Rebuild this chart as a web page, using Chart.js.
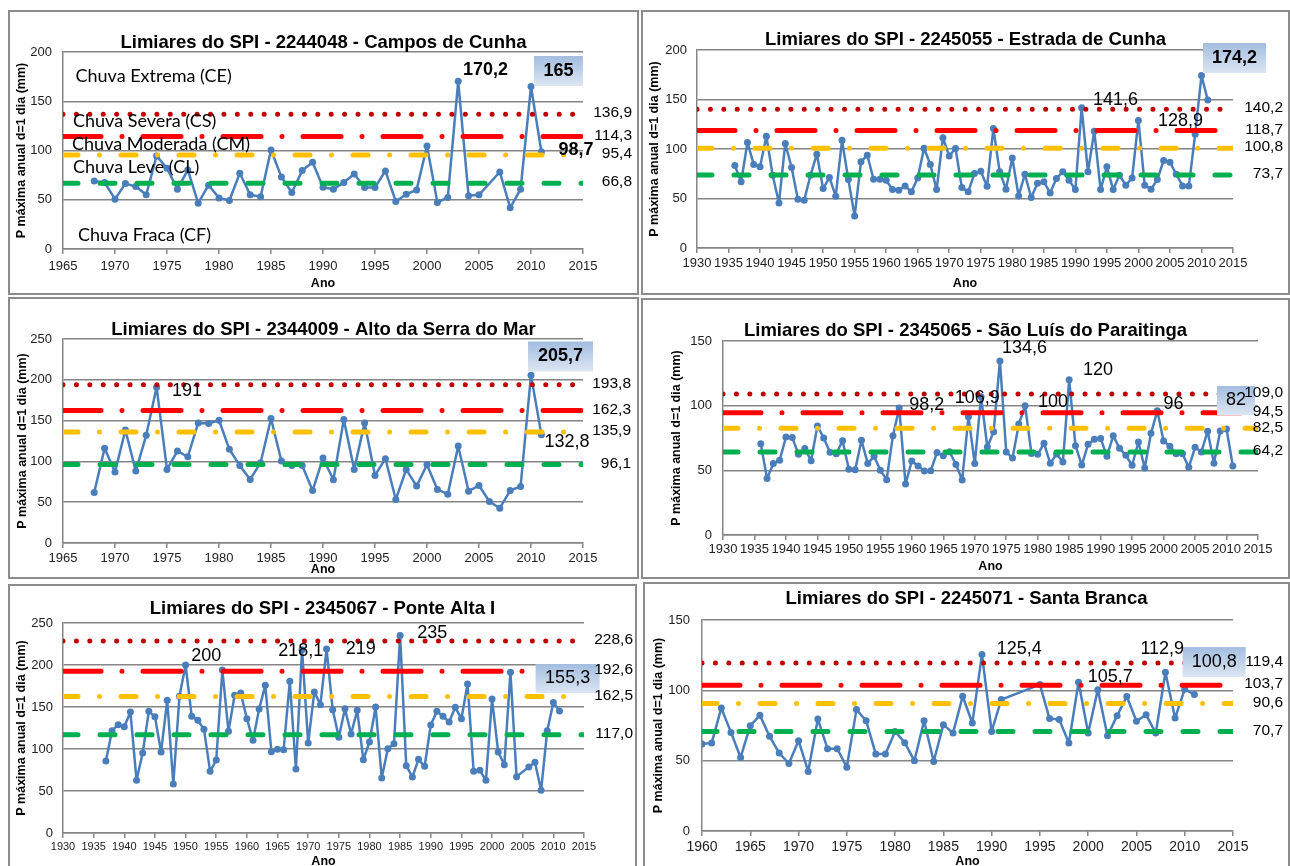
<!DOCTYPE html>
<html>
<head>
<meta charset="utf-8">
<script src="https://cdn.jsdelivr.net/npm/chart.js@4.4.0/dist/chart.umd.min.js"></script>
<style>
body { margin: 0; background: #fff; width: 1290px; height: 866px; overflow: hidden; position: relative; }
canvas, .moldura { position: absolute; }
.moldura { border: 2px solid #8c8c8c; box-sizing: border-box; pointer-events: none; }
</style>
</head>
<body>
<script>
// cores e tracos dos limiares (CE, CS, CM, CL)
var coresLimiar = ['#C00000', '#FF0000', '#FFC000', '#00B050'];
var tracosLimiar = [[0.01, 13.4], [38, 21, 0.01, 21], [15, 21.5, 0.01, 21.5], [15, 22]];
var azul = '#4A7EBB';
var cinza = '#858585';
var fonte = '"Liberation Sans", Arial, sans-serif';

// 2244048 - Campos de Cunha
var camposInicio = 1968;
var camposP = [69.1, 67.5, 50.6, 66.4, 63.4, 55.0, 94.5, 82.0, 60.7, 80.3,
    46.5, 64.8, 51.9, 49.2, 76.9, 55.0, 53.0, 100.5, 73.2, 57.3,
    79.6, 88.0, 62.7, 60.7, 67.5, 76.2, 62.4, 62.4, 79.3, 48.2,
    55.6, 60.0, 104.6, 47.2, 52.3, 170.2, 54.0, 55.0, null, 78.2,
    41.8, 60.7, 165.0, 98.7];
var camposLimiares = [136.9, 114.3, 95.4, 66.8];

// 2245055 - Estrada de Cunha
var estradaInicio = 1936;
var estradaP = [83.3, 66.8, 106.6, 84.3, 82.0, 113.0, 73.5, 45.5, 105.6, 81.3,
    49.2, 48.2, 73.5, 94.8, 60.0, 71.2, 52.3, 108.9, 69.1, 32.4,
    87.0, 93.8, 69.5, 69.5, 68.5, 59.0, 58.3, 62.7, 56.7, 70.8,
    100.8, 84.3, 59.0, 111.3, 93.0, 100.5, 61.0, 56.7, 75.2, 77.6,
    62.4, 120.7, 76.9, 59.4, 91.0, 52.6, 74.5, 50.9, 65.4, 66.8,
    55.6, 70.2, 76.9, 68.5, 59.0, 141.6, 76.9, 118.0, 59.0, 82.0,
    59.0, 73.5, 63.4, 70.8, 128.9, 63.4, 59.4, 69.1, 88.4, 86.7,
    74.5, 62.7, 62.7, 115.0, 174.2, 149.4];
var estradaLimiares = [140.2, 118.7, 100.8, 73.7];

// 2344009 - Alto da Serra do Mar
var altoInicio = 1968;
var altoP = [61.9, 116.0, 86.9, 138.5, 88.1, 132.0, 191.0, 90.2, 112.7, 105.7,
    147.1, 146.3, 150.4, 114.8, 95.0, 77.9, 98.4, 152.5, 100.4, 95.0,
    95.0, 64.3, 104.1, 77.5, 151.2, 90.2, 147.1, 82.8, 103.3, 53.3,
    90.2, 69.7, 95.9, 65.6, 59.8, 118.9, 63.5, 70.5, 50.8, 42.6,
    64.3, 69.3, 205.7, 132.8];
var altoLimiares = [193.8, 162.3, 135.9, 96.1];

// 2345065 - Sao Luis do Paraitinga
var saoLuisInicio = 1936;
var saoLuisP = [70.6, 43.6, 55.2, 57.7, 75.8, 75.3, 62.4, 66.8, 57.5, 84.3,
    75.0, 63.9, 62.9, 72.9, 50.8, 50.5, 73.2, 55.2, 60.8, 50.0,
    42.8, 76.8, 98.2, 39.4, 57.2, 53.4, 49.5, 49.7, 63.7, 61.3,
    64.4, 54.6, 42.5, 91.5, 55.2, 106.9, 68.0, 79.9, 134.6, 64.2,
    59.5, 85.8, 100.0, 63.1, 62.4, 70.9, 55.4, 62.6, 56.4, 120.0,
    69.1, 54.1, 70.1, 74.0, 74.7, 60.8, 76.8, 67.0, 61.6, 53.9,
    71.9, 51.8, 78.6, 96.0, 72.7, 68.6, 62.9, 62.9, 52.3, 67.8,
    64.2, 80.2, 55.4, 80.4, 82.0, 53.4];
var saoLuisLimiares = [109.0, 94.5, 82.5, 64.2];

// 2345067 - Ponte Alta I
var ponteInicio = 1937;
var ponteP = [85.7, 121.8, 129.0, 126.6, 144.0, 62.7, 95.2, 144.8, 138.5, 96.4,
    157.9, 58.3, 162.7, 200.0, 138.9, 134.1, 123.4, 73.4, 86.9, 194.0,
    121.0, 163.9, 166.7, 136.1, 110.3, 147.6, 175.8, 96.8, 99.6, 99.2,
    180.6, 76.2, 218.1, 107.1, 167.9, 152.8, 219.0, 146.8, 113.9, 148.0,
    117.9, 146.0, 87.3, 108.3, 150.0, 65.5, 100.4, 106.3, 235.0, 80.2,
    66.7, 87.7, 79.4, 128.6, 144.8, 138.9, 132.1, 149.6, 136.1, 177.4,
    73.4, 74.6, 62.7, 159.5, 96.4, 81.3, 191.3, 67.1, null, 78.6,
    84.1, 50.8, 121.8, 155.3, 145.2];
var ponteLimiares = [228.6, 192.6, 162.5, 117.0];

// 2245071 - Santa Branca
var brancaInicio = 1960;
var brancaP = [61.8, 62.5, 87.5, 70.1, 52.3, 74.9, 82.2, 67.3, 55.4, 48.0,
    64.2, 42.3, 79.6, 58.5, 58.5, 45.4, 86.3, 78.4, 54.7, 54.7,
    70.8, 62.8, 49.9, 78.4, 49.4, 75.6, 69.6, 95.8, 76.8, 125.4,
    70.8, 93.4, null, null, null, 104.1, 79.9, 79.2, 62.5, 105.7,
    69.6, 100.5, 67.7, 82.0, 95.6, 78.0, 82.7, 69.6, 112.9, 80.3,
    100.8, 97.0];
var brancaLimiares = [119.4, 103.7, 90.6, 70.7];

var classesChuva = ['Chuva Extrema (CE)', 'Chuva Severa (CS)', 'Chuva Moderada (CM)', 'Chuva Leve (CL)', 'Chuva Fraca (CF)'];

var paineis = [
  { titulo: 'Limiares do SPI - 2244048 - Campos de Cunha', inicio: camposInicio, valores: camposP, limiares: camposLimiares,
    xMin: 1965, xMax: 2015, yMax: 200, caixa: [8, 10, 631, 285], area: { left: 55, top: 42, right: 575, bottom: 239 },
    tituloY: 33, limX: 624, fonteX: 13, padX: 5, padY: 11, padTitY: 6.5, padAno: 3.5,
    rotulos: [['170,2', 2005.63, 181.7, true], ['98,7', 2014.33, 100.5, true]],
    destaque: ['165', 2012.64, 180.7, 49, 30, true],
    classes: [[1966.2, 175.6], [1965.96, 130], [1965.87, 106.6], [1965.96, 83.2], [1966.44, 14.2]] },
  { titulo: 'Limiares do SPI - 2245055 - Estrada de Cunha', inicio: estradaInicio, valores: estradaP, limiares: estradaLimiares,
    xMin: 1930, xMax: 2015, yMax: 200, caixa: [641, 10, 649, 285], area: { left: 56, top: 40, right: 592, bottom: 238 },
    tituloY: 30, limX: 642, fonteX: 13, padX: 3, padY: 10, padTitY: 6.5, padAno: 3.5,
    rotulos: [['141,6', 1996.37, 149.5], ['128,9', 2006.67, 127.8]],
    destaque: ['174,2', 2015.24, 191.9, 63, 30, true] },
  { titulo: 'Limiares do SPI - 2344009 - Alto da Serra do Mar', inicio: altoInicio, valores: altoP, limiares: altoLimiares,
    xMin: 1965, xMax: 2015, yMax: 250, caixa: [8, 297, 631, 282], area: { left: 55, top: 42, right: 575, bottom: 246 },
    tituloY: 33, limX: 623, fonteX: 13, padX: 3, padY: 11, padTitY: 7.5, padAno: 2,
    rotulos: [['191', 1976.92, 186.3], ['132,8', 2013.46, 123.8]],
    destaque: ['205,7', 2012.84, 228.6, 65, 30, true] },
  { titulo: 'Limiares do SPI - 2345065 - São Luís do Paraitinga', inicio: saoLuisInicio, valores: saoLuisP, limiares: saoLuisLimiares,
    xMin: 1930, xMax: 2015, yMax: 150, caixa: [641, 298, 649, 281], area: { left: 82, top: 43, right: 617, bottom: 237 },
    tituloY: 32.5, limX: 642, fonteX: 13, padX: 2, padY: 11, padTitY: 28.5, padAno: 4.5,
    rotulos: [['98,2', 1962.38, 100.5], ['106,9', 1970.41, 105.6], ['134,6', 1977.89, 144.2], ['100', 1982.42, 102.9], ['120', 1989.57, 127.2], ['96', 2001.57, 100.9]],
    destaque: ['82', 2011.51, 104.0, 38, 29, false] },
  { titulo: 'Limiares do SPI - 2345067 - Ponte Alta I', inicio: ponteInicio, valores: ponteP, limiares: ponteLimiares,
    xMin: 1930, xMax: 2015, yMax: 250, caixa: [8, 584, 629, 290], area: { left: 55, top: 39, right: 576, bottom: 249 },
    tituloY: 24.5, limX: 625, fonteX: 11, padX: 2, padY: 10, padTitY: 6.5, padAno: 4.5,
    rotulos: [['200', 1953.36, 210.1], ['218,1', 1968.78, 216.1], ['219', 1978.56, 218.5], ['235', 1990.23, 238.1]],
    destaque: ['155,3', 2012.33, 183.9, 64, 29, false] },
  { titulo: 'Limiares do SPI - 2245071 - Santa Branca', inicio: brancaInicio, valores: brancaP, limiares: brancaLimiares,
    xMin: 1960, xMax: 2015, yMax: 150, caixa: [643, 582, 647, 292], area: { left: 59, top: 38, right: 590, bottom: 249 },
    tituloY: 16.5, limX: 640, fonteX: 14, padX: 2.5, padY: 12, padTitY: 8, padAno: 4.5,
    rotulos: [['125,4', 1992.87, 129.7], ['112,9', 2007.67, 129.7], ['105,7', 2002.29, 109.5]],
    destaque: ['100,8', 2013.05, 120.1, 63, 30, false] }
];

function montaGrafico(p) {
  var c = document.createElement('canvas');
  c.width = p.caixa[2];
  c.height = p.caixa[3];
  c.style.left = p.caixa[0] + 'px';
  c.style.top = p.caixa[1] + 'px';
  document.body.appendChild(c);

  var m = document.createElement('div');
  m.className = 'moldura';
  m.style.left = p.caixa[0] + 'px';
  m.style.top = p.caixa[1] + 'px';
  m.style.width = p.caixa[2] + 'px';
  m.style.height = Math.min(p.caixa[3], 866 - p.caixa[1] + 4) + 'px';
  document.body.appendChild(m);

  var serie = [];
  for (var i = 0; i < p.valores.length; i++)
    serie.push({ x: p.inicio + i, y: p.valores[i] });

  var datasets = p.limiares.map(function (v, i) {
    return {
      data: [{ x: p.xMin, y: v }, { x: p.xMax, y: v }],
      borderColor: coresLimiar[i],
      borderWidth: 5,
      borderDash: tracosLimiar[i],
      borderCapStyle: 'round',
      pointRadius: 0,
      order: 1
    };
  });
  datasets.push({
    data: serie,
    borderColor: azul,
    backgroundColor: azul,
    borderWidth: 2.5,
    borderJoinStyle: 'round',
    pointRadius: 3.5,
    pointBackgroundColor: azul,
    pointBorderWidth: 0,
    spanGaps: true,
    order: 5
  });

  // textos: titulo, caixa de destaque, valores dos limiares e rotulos
  var textos = {
    id: 'textos',
    afterDraw: function (chart) {
      var ctx = chart.ctx, xs = chart.scales.x, ys = chart.scales.y;
      ctx.save();
      ctx.fillStyle = '#000';
      ctx.textBaseline = 'middle';
      ctx.textAlign = 'center';
      ctx.font = 'bold 18.5px ' + fonte;
      ctx.fillText(p.titulo, chart.width / 2, p.tituloY);

      var d = p.destaque;
      var cx = xs.getPixelForValue(d[1]), cy = ys.getPixelForValue(d[2]);
      var g = ctx.createLinearGradient(0, cy - d[4] / 2, 0, cy + d[4] / 2);
      g.addColorStop(0, '#A3BDE0');
      g.addColorStop(1, '#DCE6F2');
      ctx.fillStyle = g;
      ctx.fillRect(cx - d[3] / 2, cy - d[4] / 2, d[3], d[4]);
      ctx.fillStyle = '#000';
      ctx.font = (d[5] ? 'bold ' : '') + '18px ' + fonte;
      ctx.fillText(d[0], cx, cy);

      ctx.font = '15.5px ' + fonte;
      ctx.textAlign = 'right';
      p.limiares.forEach(function (v) {
        ctx.fillText(v.toFixed(1).replace('.', ','), p.limX, ys.getPixelForValue(v) - 1);
      });

      ctx.textAlign = 'center';
      p.rotulos.forEach(function (r) {
        ctx.font = (r[3] ? 'bold ' : '') + '18px ' + fonte;
        ctx.fillText(r[0], xs.getPixelForValue(r[1]), ys.getPixelForValue(r[2]));
      });

      if (p.classes) {
        ctx.textAlign = 'left';
        ctx.font = '18px Lato, "Open Sans", sans-serif';
        p.classes.forEach(function (k, i) {
          ctx.fillText(classesChuva[i], xs.getPixelForValue(k[0]), ys.getPixelForValue(k[1]));
        });
      }
      ctx.restore();
    }
  };

  new Chart(c, {
    type: 'line',
    data: { datasets: datasets },
    options: {
      responsive: false,
      animation: false,
      devicePixelRatio: 1,
      layout: { padding: { left: 0, top: p.area.top, right: p.caixa[2] - p.area.right, bottom: 0 } },
      plugins: { legend: { display: false }, tooltip: { enabled: false }, title: { display: false } },
      scales: {
        x: {
          type: 'linear', min: p.xMin, max: p.xMax,
          ticks: { stepSize: 5, autoSkip: false, maxRotation: 0, color: '#222', padding: p.padX,
                   font: { family: fonte, size: p.fonteX }, callback: function (v) { return String(v); } },
          grid: { drawOnChartArea: false, drawTicks: true, tickLength: 5, color: cinza, lineWidth: 1.5 },
          border: { color: cinza, width: 1.5 },
          title: { display: true, text: 'Ano', color: '#000', padding: { top: 0, bottom: p.padAno },
                   font: { family: fonte, size: 12.5, weight: 'bold' } },
          afterFit: function (s) { s.height = p.caixa[3] - p.area.bottom; }
        },
        y: {
          min: 0, max: p.yMax,
          ticks: { stepSize: 50, color: '#222', padding: p.padY, font: { family: fonte, size: 13 } },
          grid: { drawTicks: false, color: cinza, lineWidth: 1.5 },
          border: { color: cinza, width: 1.5 },
          title: { display: true, text: 'P máxima anual d=1 dia (mm)', color: '#000', padding: { top: p.padTitY, bottom: 0 },
                   font: { family: fonte, size: 12.5, weight: 'bold' } },
          afterFit: function (s) { s.width = p.area.left; }
        }
      }
    },
    plugins: [textos]
  });
}

paineis.forEach(montaGrafico);
</script>
</body>
</html>
